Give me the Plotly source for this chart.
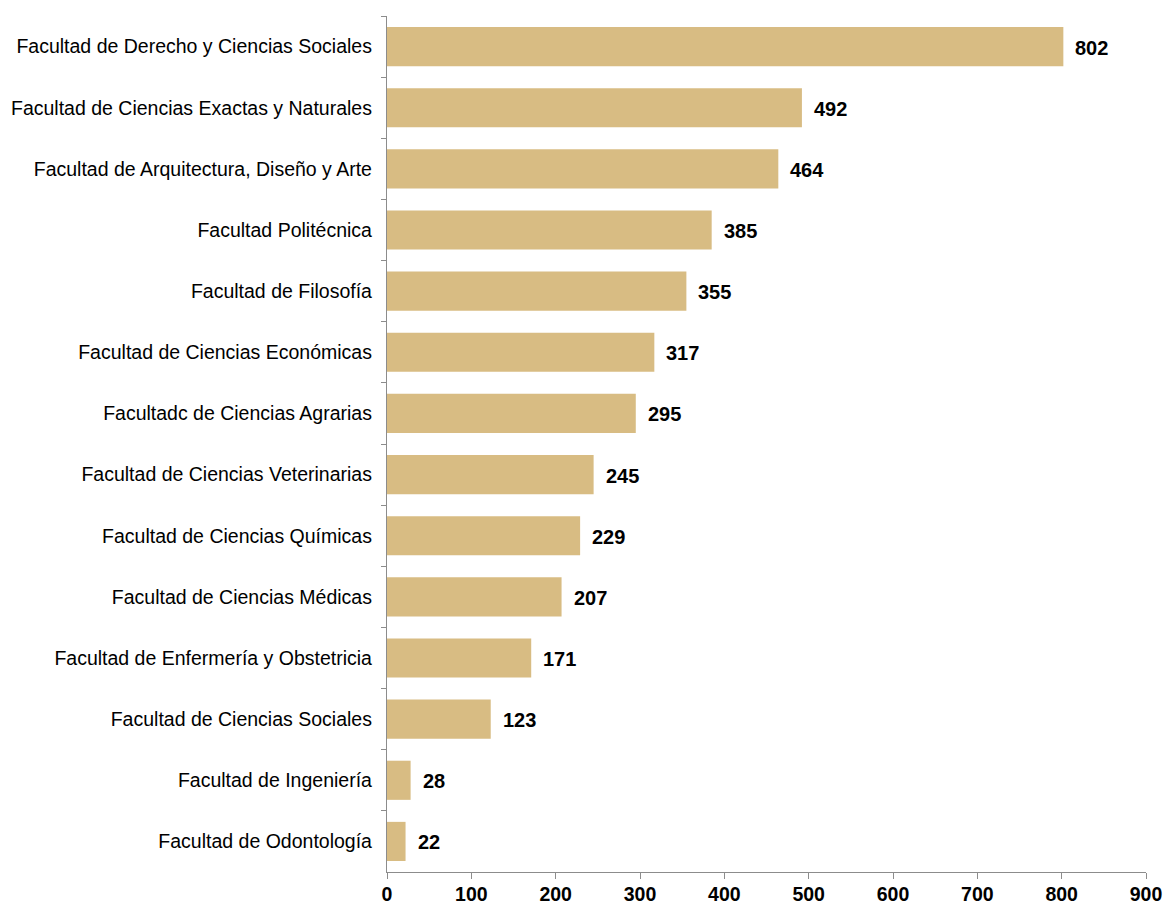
import plotly.graph_objects as go

categories = [
    "Facultad de Derecho y Ciencias Sociales",
    "Facultad de Ciencias Exactas y Naturales",
    "Facultad de Arquitectura, Diseño y Arte",
    "Facultad Politécnica",
    "Facultad de Filosofía",
    "Facultad de Ciencias Económicas",
    "Facultadc de Ciencias Agrarias",
    "Facultad de Ciencias Veterinarias",
    "Facultad de Ciencias Químicas",
    "Facultad de Ciencias Médicas",
    "Facultad de Enfermería y Obstetricia",
    "Facultad de Ciencias Sociales",
    "Facultad de Ingeniería",
    "Facultad de Odontología",
]
values = [802, 492, 464, 385, 355, 317, 295, 245, 229, 207, 171, 123, 28, 22]
x_ticks = [0, 100, 200, 300, 400, 500, 600, 700, 800, 900]

FONT = "Liberation Sans, Arial"

fig = go.Figure(go.Bar(
    x=values,
    y=categories,
    orientation="h",
    marker=dict(color="#D8BC83", line=dict(width=0)),
    width=0.64,
    hoverinfo="x+y",
))

for c, v in zip(categories, values):
    fig.add_annotation(
        x=v, y=c, xref="x", yref="y",
        text=f"<b>{v}</b>", showarrow=False,
        xanchor="left", yanchor="middle", xshift=10, yshift=-1,
        font=dict(family=FONT, size=20, color="#000000"),
    )

fig.update_layout(
    width=1165, height=904,
    margin=dict(l=387, r=19, t=16, b=32),
    plot_bgcolor="white", paper_bgcolor="white",
    showlegend=False,
    font=dict(family=FONT, color="#000000"),
)
fig.update_xaxes(
    range=[0, 900], tickvals=x_ticks, ticktext=[f"<b>{t}</b>" for t in x_ticks],
    showgrid=False, zeroline=False, automargin=False,
    showline=True, linecolor="#8C8C8C", linewidth=1.3,
    ticks="outside", ticklen=6, tickcolor="#8C8C8C",
    tickfont=dict(size=19.5, family=FONT, color="#000000"),
    ticklabelstandoff=-2,
)
fig.update_yaxes(
    autorange="reversed",
    showgrid=False, zeroline=False, automargin=False,
    showline=True, linecolor="#8C8C8C", linewidth=1.3,
    ticks="outside", ticklen=5, tickcolor="#8C8C8C", tickson="boundaries",
    tickfont=dict(size=19.5, family=FONT, color="#000000"),
    ticklabelstandoff=10,
)

# remove the browser's default 8px body margin so the figure fills the window exactly
fig.write_html(
    "out.html",
    config={"displayModeBar": False},
    post_script="document.body.style.margin='0';document.body.style.overflow='hidden';",
)
